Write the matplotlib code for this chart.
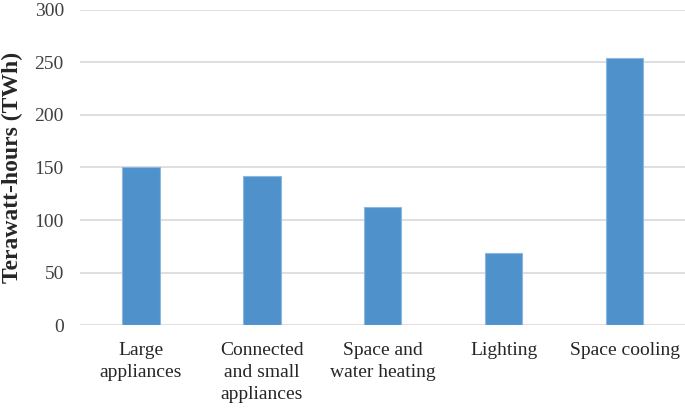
import numpy as np
import matplotlib.pyplot as plt

categories = ["Large\nappliances", "Connected\nand small\nappliances", "Space and\nwater heating",
              "Lighting", "Space cooling"]
twh = [150, 142, 112, 69, 254]

plt.rcParams['font.family'] = ['Liberation Serif', 'DejaVu Serif']

fig = plt.figure(figsize=(6.85, 4.12), dpi=100)
ax = fig.add_axes([0.1175, 0.211, 0.8825, 0.765])

x = np.arange(len(categories))
ax.bar(x, twh, width=0.31, color='#4E91CB', edgecolor='#8DB7DE', linewidth=0.8, zorder=3)

ax.set_ylim(0, 300)
ax.set_xlim(-0.5, len(categories) - 0.5)
ax.set_yticks(np.arange(0, 301, 50))
ax.yaxis.grid(True, color='#D9D9D9', linewidth=1.2, zorder=0)
ax.set_xticks(x)
ax.set_xticklabels(categories, fontsize=14, color='#262626', linespacing=1.4, va='top')
ax.tick_params(axis='y', labelsize=14, labelcolor='#404040', length=0, pad=12)
ax.tick_params(axis='x', length=0, pad=12)
for s in ax.spines.values():
    s.set_visible(False)

ax.set_ylabel('Terawatt-hours (TWh)', fontsize=17, fontweight='bold', color='#262626', labelpad=8)

fig.savefig('out.png', dpi=100)
